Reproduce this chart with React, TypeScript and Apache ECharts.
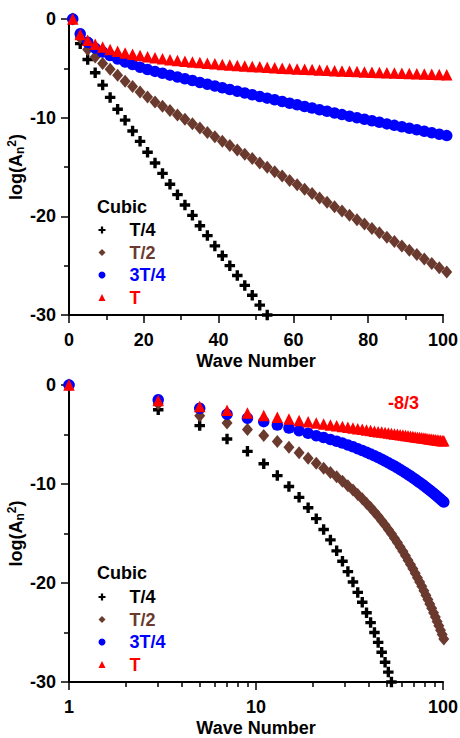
import React, { useEffect, useRef } from "react";
import * as echarts from "echarts";

// ---- data ----
const waveNumbers = [
  1, 3, 5, 7, 9, 11, 13, 15, 17, 19, 21, 23, 25, 27, 29, 31, 33, 35, 37, 39, 41,
  43, 45, 47, 49, 51, 53, 55, 57, 59, 61, 63, 65, 67, 69, 71, 73, 75, 77, 79, 81,
  83, 85, 87, 89, 91, 93, 95, 97, 99, 101,
];
const quarterT = [
  0, -2.5, -4.1, -5.45, -6.7, -7.95, -9.15, -10.25, -11.35, -12.4, -13.5, -14.6,
  -15.65, -16.75, -17.8, -18.85, -19.9, -20.95, -21.95, -23.0, -24.0, -25.0,
  -26.0, -27.0, -28.0, -29.0, -30.0,
];
const halfT = [
  0, -1.9, -3.1, -3.85, -4.5, -5.1, -5.7, -6.3, -6.85, -7.4, -7.9, -8.4, -8.84,
  -9.28, -9.73, -10.17, -10.61, -11.05, -11.5, -11.94, -12.38, -12.82, -13.27,
  -13.71, -14.15, -14.59, -15.03, -15.48, -15.92, -16.36, -16.8, -17.25, -17.69,
  -18.13, -18.57, -19.02, -19.46, -19.9, -20.34, -20.78, -21.23, -21.67, -22.11,
  -22.55, -23.0, -23.44, -23.88, -24.32, -24.77, -25.21, -25.65,
];
const threeQuarterT = [
  0, -1.5, -2.35, -2.95, -3.35, -3.7, -4.05, -4.35, -4.62, -4.88, -5.12, -5.31,
  -5.5, -5.69, -5.87, -6.06, -6.24, -6.43, -6.61, -6.79, -6.97, -7.15, -7.32,
  -7.5, -7.68, -7.85, -8.02, -8.19, -8.36, -8.53, -8.7, -8.87, -9.03, -9.2,
  -9.36, -9.52, -9.69, -9.85, -10.0, -10.16, -10.32, -10.47, -10.63, -10.78,
  -10.93, -11.08, -11.23, -11.38, -11.53, -11.68, -11.82,
];
const fullT = [
  0, -1.57, -2.16, -2.55, -2.84, -3.08, -3.27, -3.44, -3.58, -3.71, -3.83, -3.93,
  -4.03, -4.12, -4.2, -4.28, -4.35, -4.42, -4.48, -4.54, -4.6, -4.66, -4.71,
  -4.76, -4.81, -4.85, -4.9, -4.94, -4.98, -5.02, -5.06, -5.1, -5.13, -5.17,
  -5.2, -5.24, -5.27, -5.3, -5.33, -5.36, -5.39, -5.42, -5.45, -5.47, -5.5,
  -5.52, -5.55, -5.57, -5.6, -5.62, -5.64,
];
const seriesNames = ["T/4", "T/2", "3T/4", "T"];
const seriesValues = [quarterT, halfT, threeQuarterT, fullT];
const legendTitle = "Cubic";
const slopeNote = "-8/3";
const logMinorTicks = [2, 3, 4, 5, 6, 7, 8, 9, 20, 30, 40, 50, 60, 70, 80, 90];

// ---- styles ----
const FONT = "'Liberation Sans', Arial, sans-serif";
const colors = ["#000000", "#6b3a2f", "#0000ff", "#ff0000"];
const PLUS = "path://M3.4,0H6.6V3.4H10V6.6H6.6V10H3.4V6.6H0V3.4H3.4Z";
const symbols = [PLUS, "diamond", "circle", "triangle"];
const symbolSizes: any[] = [10.5, [11, 13], 11.5, 11.5];

const textBase = { fontFamily: FONT, fontSize: 18, fontWeight: "bold", color: "#000" };
const lineStyle = { color: "#000", width: 2 };
const tickStyle = { color: "#000", width: 1.5 };

function makeY(gridIndex: number) {
  return {
    gridIndex,
    type: "value",
    min: -30,
    max: 0,
    interval: 10,
    axisLine: { show: true, onZero: false, lineStyle },
    axisTick: { show: true, length: 8, lineStyle: tickStyle },
    minorTick: { show: true, splitNumber: 2, length: 5, lineStyle: tickStyle },
    splitLine: { show: false },
    minorSplitLine: { show: false },
    axisLabel: { ...textBase, margin: 13 },
    name: "log(A{sub|n}{sup|2})",
    nameLocation: "middle",
    nameGap: 43,
    nameMoveOverlap: false,
    nameRotate: 90,
    nameTextStyle: {
      ...textBase,
      lineHeight: 20,
      rich: {
        sub: { fontFamily: FONT, fontSize: 12, fontWeight: "bold", color: "#000", verticalAlign: "bottom", lineHeight: 12 },
        sup: { fontFamily: FONT, fontSize: 12, fontWeight: "bold", color: "#000", verticalAlign: "top", lineHeight: 12 },
      },
    },
  };
}

function makeLegend(top: number) {
  return {
    orient: "vertical",
    left: 98.5,
    top,
    padding: 0,
    itemWidth: 7,
    itemHeight: 7,
    itemGap: 4.5,
    selectedMode: false,
    data: seriesNames.map((n, i) => ({ name: n, textStyle: { color: colors[i] } })),
    formatter: (name: string) => "{g| }" + name,
    textStyle: { ...textBase, lineHeight: 18, rich: { g: { width: 19 } } },
  };
}

export default function App() {
  const ref = useRef<HTMLDivElement>(null);
  useEffect(() => {
    if (!ref.current) return;
    const chart = echarts.init(ref.current, null, { renderer: "svg" });
    const series: any[] = [];
    [0, 1].forEach((g) => {
      seriesValues.forEach((vals, i) => {
        series.push({
          type: "scatter",
          name: seriesNames[i],
          xAxisIndex: g,
          yAxisIndex: g,
          data: vals.map((v, k) => [waveNumbers[k], v]),
          symbol: symbols[i],
          symbolSize: symbolSizes[i],
          itemStyle: { color: colors[i], opacity: 1 },
          clip: false,
          z: 2 + i,
        });
      });
    });
    const option: any = {
      animation: false,
      backgroundColor: "#fff",
      textStyle: { fontFamily: FONT },
      title: [
        { text: legendTitle, left: 97, top: 198, padding: 0, textStyle: { ...textBase, lineHeight: 18 } },
        { text: legendTitle, left: 97, top: 564, padding: 0, textStyle: { ...textBase, lineHeight: 18 } },
        { text: slopeNote, left: 388, top: 394, padding: 0, textStyle: { ...textBase, color: "#ff0000", lineHeight: 18 } },
      ],
      legend: [makeLegend(221), makeLegend(588)],
      grid: [
        { left: 69, top: 19, width: 374, height: 296, containLabel: false, outerBoundsMode: "none" },
        { left: 69, top: 385, width: 374, height: 297, containLabel: false, outerBoundsMode: "none" },
      ],
      xAxis: [
        {
          gridIndex: 0,
          type: "value",
          position: "bottom",
          min: 0,
          max: 100,
          interval: 20,
          axisLine: { show: true, onZero: false, lineStyle },
          axisTick: { show: true, length: 8, lineStyle: tickStyle },
          minorTick: { show: true, splitNumber: 2, length: 5, lineStyle: tickStyle },
          splitLine: { show: false },
          minorSplitLine: { show: false },
          axisLabel: { ...textBase, margin: 16 },
          name: "Wave Number",
          nameLocation: "middle",
          nameGap: 37,
          nameTextStyle: textBase,
        },
        {
          gridIndex: 1,
          type: "log",
          logBase: 10,
          position: "bottom",
          min: 1,
          max: 100,
          axisLine: { show: true, onZero: false, lineStyle },
          axisTick: { show: true, length: 8, lineStyle: tickStyle },
          splitLine: { show: false },
          axisLabel: { ...textBase, margin: 16, formatter: (v: number) => String(Math.round(v)) },
          name: "Wave Number",
          nameLocation: "middle",
          nameGap: 37,
          nameTextStyle: textBase,
        },
        {
          // minor ticks of the log axis, on a log10 value scale 0..2
          gridIndex: 1,
          type: "value",
          position: "bottom",
          min: 0,
          max: 2,
          axisLine: { show: false, onZero: false },
          axisTick: {
            show: true,
            length: 5,
            customValues: logMinorTicks.map((v) => Math.log10(v)),
            lineStyle: tickStyle,
          },
          axisLabel: { show: false },
          splitLine: { show: false },
        },
      ],
      yAxis: [makeY(0), makeY(1)],
      series,
    };
    chart.setOption(option);
    return () => chart.dispose();
  }, []);
  return (
    <div
      ref={ref}
      style={{ position: "fixed", left: 0, top: 0, width: 460, height: 738, background: "#fff" }}
    />
  );
}
